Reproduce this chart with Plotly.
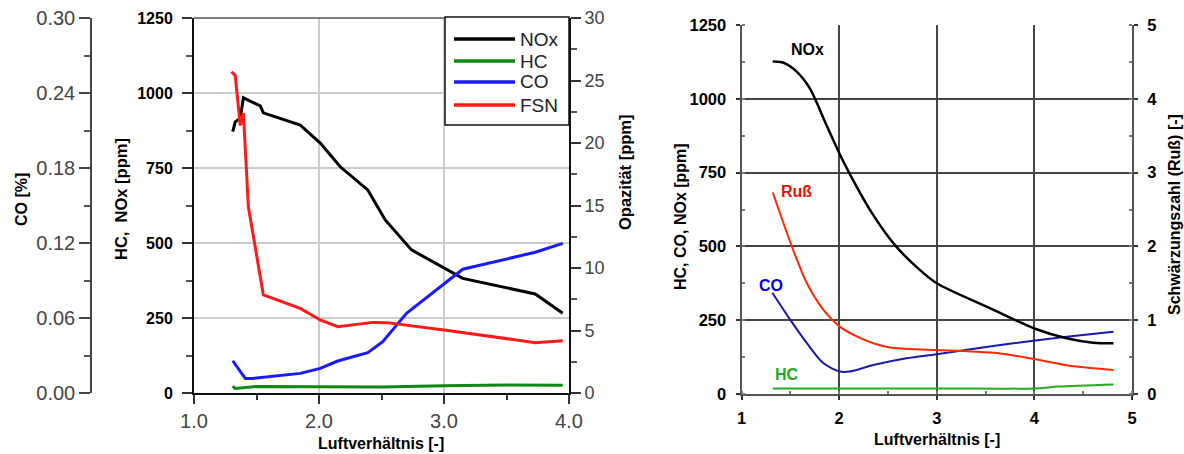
import plotly.graph_objects as go

# ---------------- data: left panel ----------------
lam_nox_l = [1.31, 1.33, 1.37, 1.395, 1.53, 1.555, 1.85, 2.01, 2.17, 2.39, 2.53, 2.74, 3.15, 3.73, 3.95]
nox_l = [871, 904, 916, 984, 957, 934, 893, 833, 754, 677, 577, 477, 382, 330, 266]

lam_hc_l = [1.31, 1.33, 1.5, 2.0, 2.5, 3.0, 3.5, 3.95]
hc_l = [23, 15, 22, 21, 20, 24, 27, 26]

lam_co_l = [1.31, 1.41, 1.47, 1.85, 2.01, 2.15, 2.39, 2.51, 2.70, 2.97, 3.15, 3.73, 3.95]
co_l = [0.0258, 0.0117, 0.0117, 0.0157, 0.0197, 0.0256, 0.0323, 0.0411, 0.0637, 0.085, 0.099, 0.1126, 0.1197]

lam_fsn_l = [1.30, 1.33, 1.37, 1.395, 1.435, 1.555, 1.85, 2.01, 2.15, 2.43, 2.54, 3.0, 3.73, 3.95]
fsn_l = [25.7, 25.4, 21.4, 22.4, 14.9, 7.84, 6.77, 5.84, 5.31, 5.65, 5.63, 5.04, 4.03, 4.19]

legend_names = ["NOx", "HC", "CO", "FSN"]

# ---------------- data: right panel ----------------
lam_nox_r = [1.32, 1.43, 1.565, 1.70, 1.87, 2.02, 2.18, 2.35, 2.57, 2.80, 3.0, 3.55, 4.0, 4.33, 4.60, 4.81]
nox_r = [1126, 1122, 1092, 1035, 911, 803, 702, 606, 505, 428, 375, 290, 222, 189, 174, 172]

lam_russ_r = [1.32, 1.53, 1.67, 1.84, 2.01, 2.18, 2.35, 2.52, 3.0, 3.65, 4.01, 4.33, 4.81]
russ_r = [2.73, 1.95, 1.50, 1.14, 0.91, 0.78, 0.687, 0.63, 0.596, 0.55, 0.47, 0.39, 0.325]

lam_co_r = [1.316, 1.50, 1.67, 1.84, 2.01, 2.11, 2.35, 2.69, 3.0, 3.65, 4.01, 4.33, 4.81]
co_r = [343, 251, 172, 104, 76, 76, 98, 121, 135, 166, 181, 194, 211]

lam_hc_r = [1.32, 2.0, 3.0, 4.0, 4.25, 4.81]
hc_r = [19, 19, 19, 19, 25, 32]

W, H = 1184, 454
def px(x):
    return x / W
def py(y):
    return 1 - y / H

FONT = "Liberation Sans, Arial, sans-serif"
C_BLACK = "#000000"
C_GREEN_L = "#118811"
C_BLUE_L = "#1a1aff"
C_RED_L = "#ff1a1a"
C_GREEN_R = "#22aa22"
C_BLUE_R = "#1a1aaa"
C_RED_R = "#ff2a00"

fig = go.Figure()

# left panel traces
fig.add_trace(go.Scatter(x=lam_hc_l, y=hc_l, mode="lines", line=dict(color=C_GREEN_L, width=3),
                         xaxis="x", yaxis="y", showlegend=False))
fig.add_trace(go.Scatter(x=lam_co_l, y=co_l, mode="lines", line=dict(color=C_BLUE_L, width=3),
                         xaxis="x", yaxis="y2", showlegend=False))
fig.add_trace(go.Scatter(x=lam_fsn_l, y=fsn_l, mode="lines", line=dict(color=C_RED_L, width=3),
                         xaxis="x", yaxis="y3", showlegend=False))
fig.add_trace(go.Scatter(x=lam_nox_l, y=nox_l, mode="lines", line=dict(color=C_BLACK, width=3),
                         xaxis="x", yaxis="y", showlegend=False))

# right panel traces
sp = dict(shape="spline", smoothing=0.8)
fig.add_trace(go.Scatter(x=lam_hc_r, y=hc_r, mode="lines", line=dict(color=C_GREEN_R, width=2, **sp),
                         xaxis="x2", yaxis="y4", showlegend=False))
fig.add_trace(go.Scatter(x=lam_co_r, y=co_r, mode="lines", line=dict(color=C_BLUE_R, width=2, **sp),
                         xaxis="x2", yaxis="y4", showlegend=False))
fig.add_trace(go.Scatter(x=lam_russ_r, y=russ_r, mode="lines", line=dict(color=C_RED_R, width=2, **sp),
                         xaxis="x2", yaxis="y5", showlegend=False))
fig.add_trace(go.Scatter(x=lam_nox_r, y=nox_r, mode="lines", line=dict(color=C_BLACK, width=2.5, **sp),
                         xaxis="x2", yaxis="y4", showlegend=False))

reg_tick = dict(family=FONT, size=20, color="#444444")
reg_tick_r = dict(family=FONT, size=18, color="#444444")
bold_tick = dict(family=FONT, size=16, color="#000000", weight="bold")
bold_tick_r = dict(family=FONT, size=16.5, color="#000000", weight="bold")

L_X0, L_X1, L_Y0, L_Y1 = 194, 569, 393, 18
R_X0, R_X1, R_Y0, R_Y1 = 741.5, 1132, 394, 25

fig.update_layout(
    width=W, height=H, autosize=False,
    margin=dict(l=0, r=0, t=0, b=0, pad=0, autoexpand=False),
    paper_bgcolor="white", plot_bgcolor="white",
    showlegend=False,
    xaxis=dict(domain=[px(L_X0), px(L_X1)], range=[1, 4], anchor="y", automargin=False,
               tickvals=[1, 2, 3, 4], ticktext=["1.0", "2.0", "3.0", "4.0"],
               ticks="outside", ticklen=9, tickwidth=1.5, tickcolor="#333",
               minor=dict(dtick=0.5, tick0=1, ticks="outside", ticklen=5, tickcolor="#333", showgrid=False),
               showline=True, linecolor="#111", linewidth=2, mirror=False,
               showgrid=True, gridcolor="#cccccc", gridwidth=1.5,
               tickfont=reg_tick, zeroline=False),
    yaxis=dict(domain=[py(L_Y0), py(L_Y1)], range=[0, 1250], anchor="x", automargin=False,
               tickvals=[0, 250, 500, 750, 1000, 1250],
               ticks="outside", ticklen=10, tickwidth=1.5, tickcolor="#333", ticklabelstandoff=6,
               minor=dict(dtick=125, ticks="outside", ticklen=6, tickcolor="#555", showgrid=False),
               showline=True, linecolor="#111", linewidth=2,
               showgrid=True, gridcolor="#cccccc", gridwidth=1.5,
               tickfont=bold_tick, zeroline=False),
    yaxis2=dict(domain=[py(L_Y0), py(L_Y1)], range=[0, 0.30], overlaying="y", anchor="free", automargin=False,
                position=px(91), side="left",
                tickvals=[0, 0.06, 0.12, 0.18, 0.24, 0.30], tickformat=".2f",
                ticks="outside", ticklen=11, tickwidth=1.5, tickcolor="#444",
                minor=dict(dtick=0.03, ticks="outside", ticklen=6, tickcolor="#555", showgrid=False),
                showline=True, linecolor="#444", linewidth=1.5,
                showgrid=False, tickfont=reg_tick, zeroline=False),
    yaxis3=dict(domain=[py(L_Y0), py(L_Y1)], range=[0, 30], overlaying="y", anchor="x", side="right",
                automargin=False,
                tickvals=[0, 5, 10, 15, 20, 25, 30],
                ticks="outside", ticklen=10, tickwidth=1.5, tickcolor="#333",
                minor=dict(dtick=2.5, ticks="outside", ticklen=6, tickcolor="#555", showgrid=False),
                showline=True, linecolor="#111", linewidth=2,
                showgrid=False, tickfont=reg_tick_r, zeroline=False),
    xaxis2=dict(domain=[px(R_X0), px(R_X1)], range=[1, 5], anchor="y4", automargin=False,
                tickvals=[1, 2, 3, 4, 5],
                ticks="outside", ticklen=4, tickwidth=2, tickcolor="#333", ticklabelstandoff=4,
                minor=dict(dtick=0.5, tick0=1, ticks="inside", ticklen=3, tickcolor="#777", showgrid=False),
                showline=True, linecolor="#555", linewidth=2,
                showgrid=True, gridcolor="#444444", gridwidth=2,
                tickfont=bold_tick_r, zeroline=False),
    yaxis4=dict(domain=[py(R_Y0), py(R_Y1)], range=[0, 1250], anchor="x2", automargin=False,
                tickvals=[0, 250, 500, 750, 1000, 1250],
                ticks="outside", ticklen=4, tickwidth=2, tickcolor="#333", ticklabelstandoff=6,
                minor=dict(dtick=125, ticks="inside", ticklen=3, tickcolor="#777", showgrid=False),
                showline=True, linecolor="#555", linewidth=2,
                showgrid=True, gridcolor="#444444", gridwidth=2,
                tickfont=bold_tick_r, zeroline=False),
    yaxis5=dict(domain=[py(R_Y0), py(R_Y1)], range=[0, 5], overlaying="y4", anchor="x2", side="right",
                automargin=False,
                tickvals=[0, 1, 2, 3, 4, 5],
                ticks="outside", ticklen=4, tickwidth=2, tickcolor="#333", ticklabelstandoff=6,
                minor=dict(dtick=0.5, ticks="inside", ticklen=3, tickcolor="#777", showgrid=False),
                showline=True, linecolor="#555", linewidth=2,
                showgrid=False, tickfont=bold_tick_r, zeroline=False),
)

shapes = []
# left panel top frame line
shapes.append(dict(type="line", xref="paper", yref="paper", x0=px(L_X0), x1=px(L_X1), y0=py(L_Y1), y1=py(L_Y1),
                   line=dict(color="#555", width=1.5)))
# legend box (left panel)
LG_X0, LG_X1, LG_Y0, LG_Y1 = 445, 569, 17, 125
shapes.append(dict(type="rect", xref="paper", yref="paper", x0=px(LG_X0), x1=px(LG_X1), y0=py(LG_Y1), y1=py(LG_Y0),
                   line=dict(color="#111", width=1.5), fillcolor="white", layer="above"))
legend_colors = [C_BLACK, C_GREEN_L, C_BLUE_L, C_RED_L]
legend_rows = [39, 61, 82, 105]
annotations = []
for name, col, yy in zip(legend_names, legend_colors, legend_rows):
    shapes.append(dict(type="line", xref="paper", yref="paper", x0=px(454), x1=px(515), y0=py(yy), y1=py(yy),
                       line=dict(color=col, width=3.5), layer="above"))
    annotations.append(dict(x=px(518), y=py(yy), xref="paper", yref="paper", text=name, showarrow=False,
                            xanchor="left", yanchor="middle", font=dict(family=FONT, size=19, color="#222")))

# axis titles
def title(text, x, y, size=14, angle=0, color="#000"):
    annotations.append(dict(x=px(x), y=py(y), xref="paper", yref="paper", text=text, showarrow=False,
                            xanchor="center", yanchor="middle", textangle=angle,
                            font=dict(family=FONT, size=size, color=color, weight="bold")))

title("CO [%]", 21, 200, 16, -90)
title("HC,  NOx [ppm]", 121, 199, 16.5, -90)
title("Opazität [ppm]", 625, 172, 16.5, -90)
title("Luftverhältnis [-]", 381, 443, 16)
title("HC, CO, NOx [ppm]", 680, 217, 16, -90)
title("Schwärzungszahl (Ruß) [-]", 1174, 215, 16, -90)
title("Luftverhältnis [-]", 937, 439, 16)

# right panel series labels
title("NOx", 807, 50, 16, 0, C_BLACK)
title("Ruß", 796, 192, 16, 0, "#ee1100")
title("CO", 771, 285, 16, 0, "#0000ee")
title("HC", 787, 374, 16, 0, "#22aa22")

fig.update_layout(shapes=shapes, annotations=annotations)

fig.write_html("out.html")
